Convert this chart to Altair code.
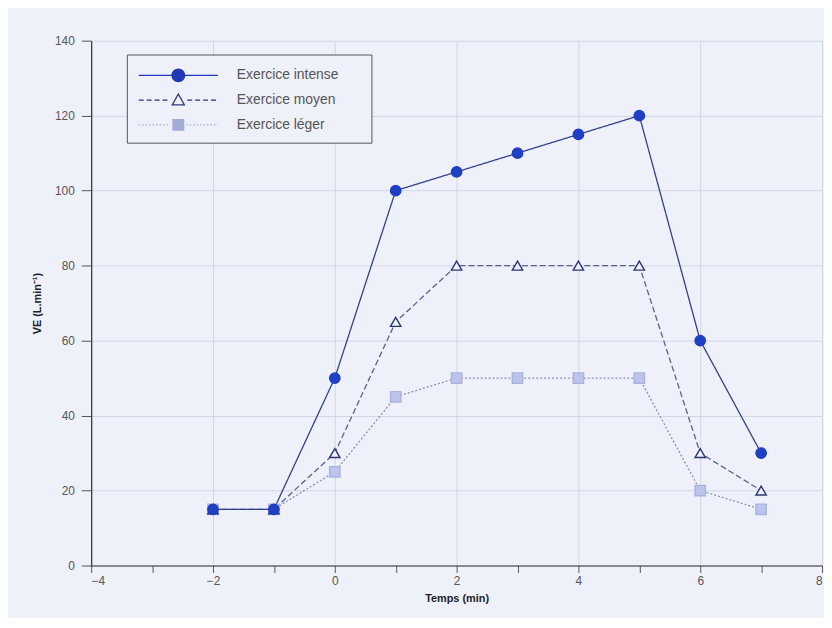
import altair as alt
import pandas as pd

# ---- data ----
temps = [-2, -1, 0, 1, 2, 3, 4, 5, 6, 7]
intense = [15, 15, 50, 100, 105, 110, 115, 120, 60, 30]
moyen = [15, 15, 30, 65, 80, 80, 80, 80, 30, 20]
leger = [15, 15, 25, 45, 50, 50, 50, 50, 20, 15]
series = ["Exercice intense", "Exercice moyen", "Exercice léger"]
x_ticks = list(range(-4, 9))
y_ticks = [0, 20, 40, 60, 80, 100, 120, 140]

# ---- styles ----
BG = "#eef0fa"
BLUE = "#1f3fc4"
NAVY = "#2c3574"
LIGHT = "#bcc4ec"
line_colors = ["#34418a", "#5a6190", "#8a90b4"]
fill_colors = [BLUE, BG, LIGHT]
stroke_colors = [BLUE, NAVY, "#aab2e0"]
legend_colors = ["#2238b8", NAVY, "#a3abd8"]
dashes = [[1, 0], [6, 3], [2, 2]]
FONT = "Liberation Sans"


def seg_rects(a, b, dash, gap, h=0.065):
    parts = []
    p = a
    while p < b - 1e-9:
        q = min(p + dash, b)
        parts.append(f"M{p:.2f},{-h}H{q:.2f}V{h}H{p:.2f}Z")
        p = q + gap
    return "".join(parts)


EXTEND = "M18.4,0"  # widens the legend frame to the reference's width
legend_paths = [
    seg_rects(-4, -0.6, 10, 0) + seg_rects(0.6, 4, 10, 0)
    + "M-0.7,0A0.7,0.7 0 1,1 0.7,0A0.7,0.7 0 1,1 -0.7,0Z" + EXTEND,
    seg_rects(-4, -0.9, 0.5, 0.3) + seg_rects(0.9, 4, 0.5, 0.3)
    + "M0,-0.75L0.72,0.55L-0.72,0.55ZM0,-0.48L-0.5,0.42L0.5,0.42Z" + EXTEND,
    seg_rects(-4, -0.8, 0.15, 0.2) + seg_rects(0.8, 4, 0.15, 0.2)
    + "M-0.6,-0.6H0.6V0.6H-0.6Z" + EXTEND,
]

rows = []
for name, vals in [(series[2], leger), (series[1], moyen), (series[0], intense)]:
    for t, v in zip(temps, vals):
        rows.append({"serie": name, "temps": t, "ve": v})
df = pd.DataFrame(rows)
leg_df = pd.DataFrame({"serie": series})

x_enc = alt.X(
    "temps:Q",
    scale=alt.Scale(domain=[-4, 8], nice=False, zero=False),
    axis=alt.Axis(
        values=x_ticks,
        labelExpr="datum.value % 2 === 0 ? format(datum.value, 'd') : ''",
        title="Temps (min)",
        gridOpacity={"condition": {"test": "datum.value % 2 === 0", "value": 1}, "value": 0},
        tickSize=7,
        labelPadding=3,
        titlePadding=6,
    ),
)
y_enc = alt.Y(
    "ve:Q",
    scale=alt.Scale(domain=[0, 140], nice=False),
    axis=alt.Axis(values=y_ticks, title="VE (L.min⁻¹)", tickSize=10,
                  labelPadding=7, titlePadding=12),
)

lines = alt.Chart(df).mark_line(strokeWidth=1.3).encode(
    x=x_enc,
    y=y_enc,
    detail="serie:N",
    order="temps:Q",
    color=alt.Color("serie:N", scale=alt.Scale(domain=series, range=line_colors), legend=None),
    strokeDash=alt.StrokeDash("serie:N", scale=alt.Scale(domain=series, range=dashes), legend=None),
)

points = alt.Chart(df).mark_point(size=110, strokeWidth=1.4, opacity=1, fillOpacity=1).encode(
    x="temps:Q",
    y="ve:Q",
    shape=alt.Shape("serie:N", scale=alt.Scale(domain=series, range=["circle", "triangle-up", "square"]), legend=None),
    fill=alt.Fill("serie:N", scale=alt.Scale(domain=series, range=fill_colors), legend=None),
    stroke=alt.Stroke("serie:N", scale=alt.Scale(domain=series, range=stroke_colors), legend=None),
)

leg = alt.Legend(
    orient="none", legendX=36, legendY=14, title=None,
    symbolSize=400, symbolOffset=31, labelOffset=49, padding=11, rowPadding=5 + 3,
    strokeColor="#555", fillColor=BG, labelFont=FONT, labelFontSize=14,
    labelColor="#555", symbolStrokeWidth=0, symbolOpacity=1,
)

# legend carrier: its marks sit outside the clipped plot area, only the legend shows
legend_layer = alt.Chart(leg_df).mark_point(size=400, filled=True, opacity=1, clip=True).encode(
    x=alt.value(-2000),
    y=alt.value(-2000),
    shape=alt.Shape("serie:N", scale=alt.Scale(domain=series, range=legend_paths), legend=leg),
    color=alt.Color("serie:N", scale=alt.Scale(domain=series, range=legend_colors), legend=leg),
)

chart = (
    alt.layer(legend_layer, lines, points)
    .resolve_scale(shape="independent", color="independent", fill="independent", stroke="independent")
    .properties(
        width=738, height=530,
        autosize=alt.AutoSizeParams(type="none"),
        padding={"left": 84, "top": 30, "right": 2, "bottom": 50},
        background=BG,
    )
    .configure_view(stroke=None, fill=BG)
    .configure_axis(
        domainColor="#333", domainWidth=1.2, tickColor="#555", tickWidth=1,
        gridColor="#d3d6e6", gridWidth=1,
        labelFont=FONT, labelFontSize=12, labelColor="#555",
        titleFont=FONT, titleFontSize=11, titleFontWeight="bold", titleColor="#222",
    )
)

chart.save("out.html", embed_options={"renderer": "svg", "actions": False})
